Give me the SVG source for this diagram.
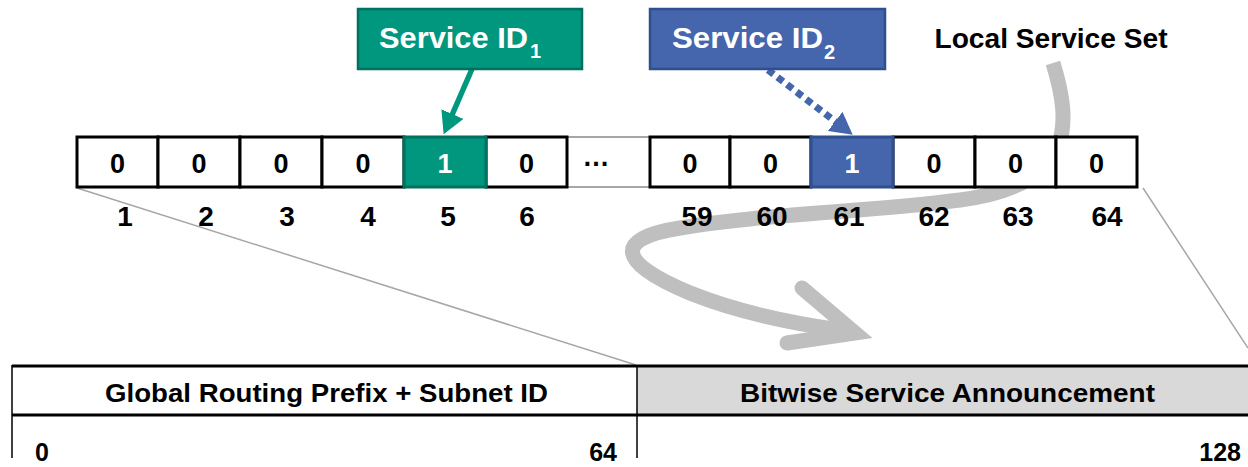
<svg xmlns="http://www.w3.org/2000/svg" width="1248" height="467" viewBox="0 0 1248 467">
<style>
text{font-family:"Liberation Sans",Arial,sans-serif;font-weight:bold;fill:#000}
.cell{fill:#fff;stroke:#000;stroke-width:3}
.dig{font-size:27px;text-anchor:middle}
.lbl{font-size:28px;text-anchor:middle}
.wt{fill:#fff}
.thin{stroke:#a6a6a6;stroke-width:1.5;fill:none}
.tick{stroke:#000;stroke-width:1.5;fill:none}
</style>
<defs>
<marker id="mg" viewBox="0 0 22 24" refX="1" refY="12" markerWidth="22" markerHeight="24" markerUnits="userSpaceOnUse" orient="auto"><path d="M0,0 L22,12 L0,24 z" fill="#00977f"/></marker>
<marker id="mb" viewBox="0 0 22 24" refX="1" refY="12" markerWidth="22" markerHeight="24" markerUnits="userSpaceOnUse" orient="auto"><path d="M0,0 L22,12 L0,24 z" fill="#4565ad"/></marker>
</defs>
<rect width="1248" height="467" fill="#fff"/>

<g id="connectors">
<line class="thin" x1="77" y1="188" x2="636" y2="365"/>
<line class="thin" x1="1143" y1="188" x2="1248" y2="348"/>
<path d="M1053 63 C1072 125 1075 185 960 200 C870 212 760 214 680 228 C615 238 615 262 690 293 C740 313 790 323 840 330" fill="none" stroke="#bfbfbf" stroke-width="15"/>
<path d="M802 288 L855 333 L787 343" fill="none" stroke="#bfbfbf" stroke-width="15" stroke-linecap="round" stroke-linejoin="miter"/>
<line x1="472" y1="69" x2="452" y2="115" stroke="#00977f" stroke-width="5.5" marker-end="url(#mg)"/>
<line x1="768" y1="70" x2="836" y2="122" stroke="#4565ad" stroke-width="7" stroke-dasharray="7 5" marker-end="url(#mb)"/>
</g>

<g id="service-id-1">
<rect x="358" y="9" width="224" height="60" fill="#00977f" stroke="#00705f" stroke-width="2.5"/>
<text x="379" y="48" font-size="29" class="wt" textLength="149" lengthAdjust="spacingAndGlyphs">Service ID</text>
<text x="530" y="58" font-size="20" class="wt">1</text>
</g>

<g id="service-id-2">
<rect x="650" y="9" width="235" height="60" fill="#4565ad" stroke="#2f4f8f" stroke-width="2.5"/>
<text x="672" y="48" font-size="29" class="wt" textLength="151" lengthAdjust="spacingAndGlyphs">Service ID</text>
<text x="824" y="59" font-size="20" class="wt">2</text>
</g>

<g id="local-service-set">
<text x="1051" y="48" font-size="27" text-anchor="middle" textLength="233" lengthAdjust="spacingAndGlyphs">Local Service Set</text>
</g>

<g id="bit-row">
<line x1="567" y1="137" x2="650" y2="137" stroke="#a6a6a6" stroke-width="2"/>
<line x1="567" y1="187" x2="650" y2="187" stroke="#a6a6a6" stroke-width="2"/>
<rect class="cell" x="77" y="137" width="81" height="50"/>
<rect class="cell" x="158" y="137" width="82" height="50"/>
<rect class="cell" x="240" y="137" width="82" height="50"/>
<rect class="cell" x="322" y="137" width="82" height="50"/>
<rect class="cell" x="486" y="137" width="81" height="50"/>
<rect x="404" y="137" width="82" height="50" fill="#00977f" stroke="#00705f" stroke-width="3"/>
<rect class="cell" x="650" y="137" width="80" height="50"/>
<rect class="cell" x="730" y="137" width="81" height="50"/>
<rect class="cell" x="893" y="137" width="82" height="50"/>
<rect class="cell" x="975" y="137" width="81" height="50"/>
<rect class="cell" x="1056" y="137" width="81" height="50"/>
<rect x="811" y="137" width="82" height="50" fill="#4565ad" stroke="#2f4f8f" stroke-width="3"/>
<text class="dig" x="117.5" y="173">0</text>
<text class="dig" x="199" y="173">0</text>
<text class="dig" x="281" y="173">0</text>
<text class="dig" x="363" y="173">0</text>
<text class="dig wt" x="445" y="173">1</text>
<text class="dig" x="526.5" y="173">0</text>
<text x="596" y="166" font-size="27" text-anchor="middle">…</text>
<text class="dig" x="690" y="173">0</text>
<text class="dig" x="770.5" y="173">0</text>
<text class="dig wt" x="852" y="173">1</text>
<text class="dig" x="934" y="173">0</text>
<text class="dig" x="1015.5" y="173">0</text>
<text class="dig" x="1096.5" y="173">0</text>
</g>

<g id="bit-labels">
<text class="lbl" x="125" y="226">1</text>
<text class="lbl" x="206" y="226">2</text>
<text class="lbl" x="287" y="226">3</text>
<text class="lbl" x="368" y="226">4</text>
<text class="lbl" x="448" y="226">5</text>
<text class="lbl" x="527" y="226">6</text>
<text class="lbl" x="697" y="226">59</text>
<text class="lbl" x="772" y="226">60</text>
<text class="lbl" x="849" y="226">61</text>
<text class="lbl" x="934" y="226">62</text>
<text class="lbl" x="1018" y="226">63</text>
<text class="lbl" x="1107" y="226">64</text>
</g>

<g id="address-bar">
<rect x="637" y="366" width="615" height="49" fill="#d9d9d9"/>
<line x1="12" y1="366" x2="1248" y2="366" stroke="#000" stroke-width="3"/>
<line x1="12" y1="415" x2="1248" y2="415" stroke="#000" stroke-width="3"/>
<line x1="12" y1="365" x2="12" y2="458" class="tick"/>
<line x1="637" y1="365" x2="637" y2="458" class="tick" stroke-width="2"/>
<text x="105" y="402" font-size="26" textLength="443" lengthAdjust="spacingAndGlyphs">Global Routing Prefix + Subnet ID</text>
<text x="740" y="402" font-size="26" textLength="415" lengthAdjust="spacingAndGlyphs">Bitwise Service Announcement</text>
<text x="35" y="461" font-size="25">0</text>
<text x="617" y="461" font-size="25" text-anchor="end">64</text>
<text x="1241" y="461" font-size="25" text-anchor="end">128</text>
</g>
</svg>
